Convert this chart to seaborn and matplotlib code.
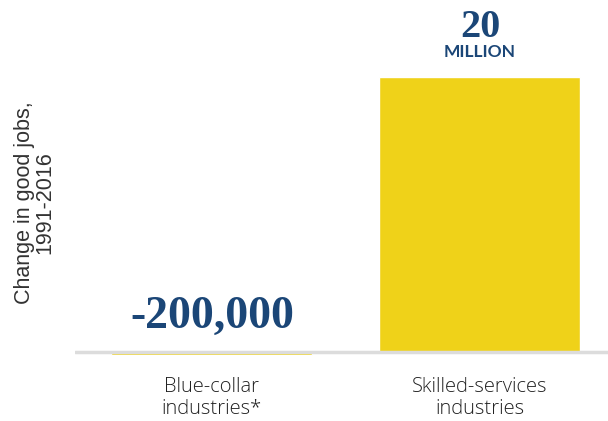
import matplotlib
matplotlib.use("Agg")
import matplotlib.pyplot as plt
import seaborn as sns
import pandas as pd

categories = ["Blue-collar\nindustries*", "Skilled-services\nindustries"]
change_millions = [-0.2, 20.0]
value_labels = ["-200,000", "20"]

sns.set_theme(style="white")

df = pd.DataFrame({"category": categories, "change": change_millions})

fig = plt.figure(figsize=(6.08, 4.21), dpi=100)
ax = fig.add_axes([75 / 608, 1 - 365 / 421, 533 / 608, 325 / 421])

sns.barplot(data=df, x="category", y="change", color="#EFD219", saturation=1,
            width=0.75, ax=ax)

ax.set_xlim(-0.511, 1.478)
ax.set_ylim(-0.945, 22.69)
ax.axhline(0, color="#dcdcdc", lw=2.5, zorder=1)

for s in ax.spines.values():
    s.set_visible(False)
ax.set_yticks([])
ax.tick_params(axis="x", length=0, pad=9)
for t in ax.get_xticklabels():
    t.set_fontfamily("Open Sans")
    t.set_fontweight("light")
    t.set_fontsize(14.5)
    t.set_color("#222222")
    t.set_linespacing(1.1)

ax.set_xlabel("")
ax.set_ylabel("Change in good jobs,\n1991-2016", fontsize=15.5,
              family="Liberation Sans", color="#333333", labelpad=14,
              linespacing=0.95)

blue = "#1b4677"
# -200,000 label above the zero line
ax.annotate(value_labels[0], xy=(0, 0), xytext=(0, 10), textcoords="offset points",
            ha="center", va="bottom", fontsize=33, fontweight="bold",
            family="Liberation Serif", color=blue)
# 20 MILLION label above the tall bar
ax.annotate(value_labels[1], xy=(1, change_millions[1]), xytext=(0, 22),
            textcoords="offset points", ha="center", va="bottom", fontsize=29,
            fontweight="bold", family="Liberation Serif", color=blue,
            annotation_clip=False)
ax.annotate("MILLION", xy=(1, change_millions[1]), xytext=(0, 12),
            textcoords="offset points", ha="center", va="bottom", fontsize=12.5,
            fontweight="bold", family="Lato", color=blue, annotation_clip=False)

fig.savefig("out.png", dpi=100)
